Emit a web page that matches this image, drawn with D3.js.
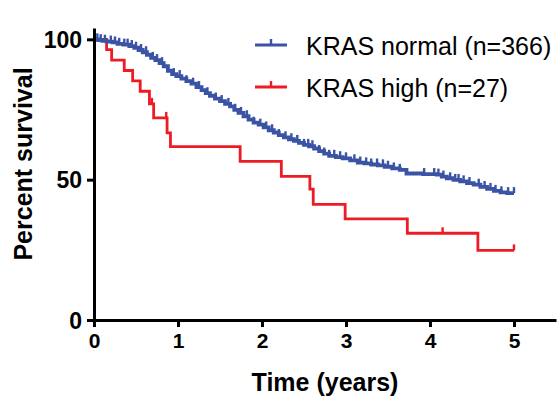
<!DOCTYPE html>
<html><head><meta charset="utf-8">
<script src="https://cdn.jsdelivr.net/npm/d3@7"></script>
<style>
html,body{margin:0;padding:0;background:#fff;}
svg text{font-family:"Liberation Sans",Arial,Helvetica,sans-serif;}
</style></head>
<body>
<svg id="chart" width="558" height="402"></svg>
<script>
// ---- data ----
const seriesNames = ["KRAS normal (n=366)", "KRAS high (n=27)"];
const xTicks = [0, 1, 2, 3, 4, 5];
const yTicks = [0, 50, 100];

const normalTimes = [0,0.05,0.10,0.15,0.22,0.28,0.35,0.42,0.48,0.53,0.58,0.63,0.68,0.73,0.78,0.83,0.88,0.93,0.98,1.04,1.10,1.16,1.22,1.28,1.33,1.38,1.44,1.50,1.56,1.62,1.67,1.72,1.78,1.84,1.90,1.96,2.02,2.08,2.14,2.20,2.26,2.32,2.38,2.44,2.50,2.56,2.62,2.68,2.74,2.80,2.88,2.96,3.05,3.14,3.22,3.30,3.38,3.46,3.55,3.64,3.72,3.92,4.08,4.14,4.20,4.28,4.36,4.44,4.52,4.60,4.68,4.76,4.84,4.92,5.00];
const normalSurv  = [100,99.7,99.5,99.2,98.9,98.4,98.1,97.6,97.0,96.2,95.4,94.5,93.4,92.6,91.5,90.4,88.8,87.6,86.9,86.0,85.1,84.2,83.0,81.9,80.8,79.9,78.9,78.0,77.0,76.1,74.9,73.8,72.6,71.4,70.3,69.6,68.6,67.6,66.8,65.9,65.1,64.4,63.8,63.1,62.4,61.9,61.1,60.2,59.3,58.5,58.0,57.6,56.9,56.1,55.8,55.4,55.1,54.6,54.0,53.5,52.2,52.0,51.8,51.1,50.5,49.9,49.4,48.8,48.2,47.4,46.7,46.0,45.5,45.2,45.2];
const normalCensor = [0.04,0.08,0.13,0.20,0.25,0.30,0.36,0.40,0.45,0.50,0.56,0.62,0.70,0.75,0.81,0.95,1.02,1.10,1.18,1.25,1.35,1.45,1.52,1.60,1.68,1.75,1.82,1.90,1.98,2.05,2.12,2.20,2.28,2.35,2.42,2.50,2.55,2.60,2.68,2.74,2.80,2.86,2.93,3.00,3.10,3.17,3.24,3.30,3.37,3.44,3.50,3.57,3.64,3.93,4.05,4.10,4.16,4.24,4.30,4.34,4.40,4.47,4.58,4.65,4.72,4.78,4.85,4.93,5.00];

const highTimes = [0,0.15,0.21,0.36,0.46,0.55,0.66,0.71,0.87,0.91,1.74,2.23,2.57,2.61,2.99,3.73,4.57,5.00];
const highSurv  = [100,96.3,92.6,88.9,85.2,81.5,77.0,72.0,66.7,61.8,56.5,51.2,46.6,41.2,36.0,30.9,24.8,24.8];
const highCensor = [0.69,0.86,4.15,5.00];

const colors = ["#3a53a4", "#ed1c24"];

// ---- chart ----
const svg = d3.select("#chart");
const x = d3.scaleLinear().domain([0, 5.5]).range([94, 556]);
const y = d3.scaleLinear().domain([0, 104]).range([320, 28.1]);

const series = [
  {name: seriesNames[0], t: normalTimes, s: normalSurv, c: normalCensor, color: colors[0], w: 3.8},
  {name: seriesNames[1], t: highTimes, s: highSurv, c: highCensor, color: colors[1], w: 2.8}
];

function survAt(sr, tt) {
  let v = sr.s[0];
  for (let i = 0; i < sr.t.length; i++) { if (sr.t[i] <= tt) v = sr.s[i]; }
  return v;
}

const line = d3.line().x(d => x(d[0])).y(d => y(d[1])).curve(d3.curveStepAfter);

[series[1], series[0]].forEach(sr => {
  const pts = sr.t.map((t, i) => [t, sr.s[i]]);
  svg.append("path").attr("d", line(pts)).attr("fill", "none")
    .attr("stroke", sr.color).attr("stroke-width", sr.w).attr("stroke-linejoin", "miter");
  svg.append("g").selectAll("line").data(sr.c).join("line")
    .attr("x1", d => x(d)).attr("x2", d => x(d))
    .attr("y1", d => y(survAt(sr, d))).attr("y2", d => y(survAt(sr, d)) - 6)
    .attr("stroke", sr.color).attr("stroke-width", 2.4);
});

// axes
const xAxis = svg.append("g").attr("transform", "translate(0,320)")
  .call(d3.axisBottom(x).tickValues(xTicks).tickFormat(d3.format("d")).tickSize(7).tickSizeOuter(0).tickPadding(6));
const yAxis = svg.append("g").attr("transform", "translate(94,0)")
  .call(d3.axisLeft(y).tickValues(yTicks).tickFormat(d3.format("d")).tickSize(7).tickSizeOuter(0).tickPadding(5));
[xAxis, yAxis].forEach(a => {
  a.selectAll("path,line").attr("stroke", "#000").attr("stroke-width", 3);
  a.selectAll("text").attr("fill", "#000").attr("font-weight", "bold")
    .style("font-family", '"Liberation Sans",Arial,sans-serif');
});
xAxis.selectAll("text").attr("font-size", 21);
yAxis.selectAll("text").attr("font-size", 23).attr("dy", "0.35em");

// axis titles
svg.append("text").attr("x", 325).attr("y", 391).attr("text-anchor", "middle")
  .attr("font-size", 25).attr("font-weight", "bold").text("Time (years)");
svg.append("text").attr("transform", "translate(31.5,164) rotate(-90)").attr("text-anchor", "middle")
  .attr("font-size", 25).attr("font-weight", "bold").text("Percent survival");

// legend
const leg = svg.append("g");
series.forEach((sr, i) => {
  const ly = 45 + i * 42;
  leg.append("line").attr("x1", 255).attr("x2", 287).attr("y1", ly).attr("y2", ly)
    .attr("stroke", sr.color).attr("stroke-width", 3);
  leg.append("line").attr("x1", 271).attr("x2", 271).attr("y1", ly).attr("y2", ly - 6)
    .attr("stroke", sr.color).attr("stroke-width", 2.4);
  leg.append("text").attr("x", 306).attr("y", ly + 9.5).attr("font-size", 25)
    .attr("fill", "#000").text(sr.name);
});
</script>
</body></html>
